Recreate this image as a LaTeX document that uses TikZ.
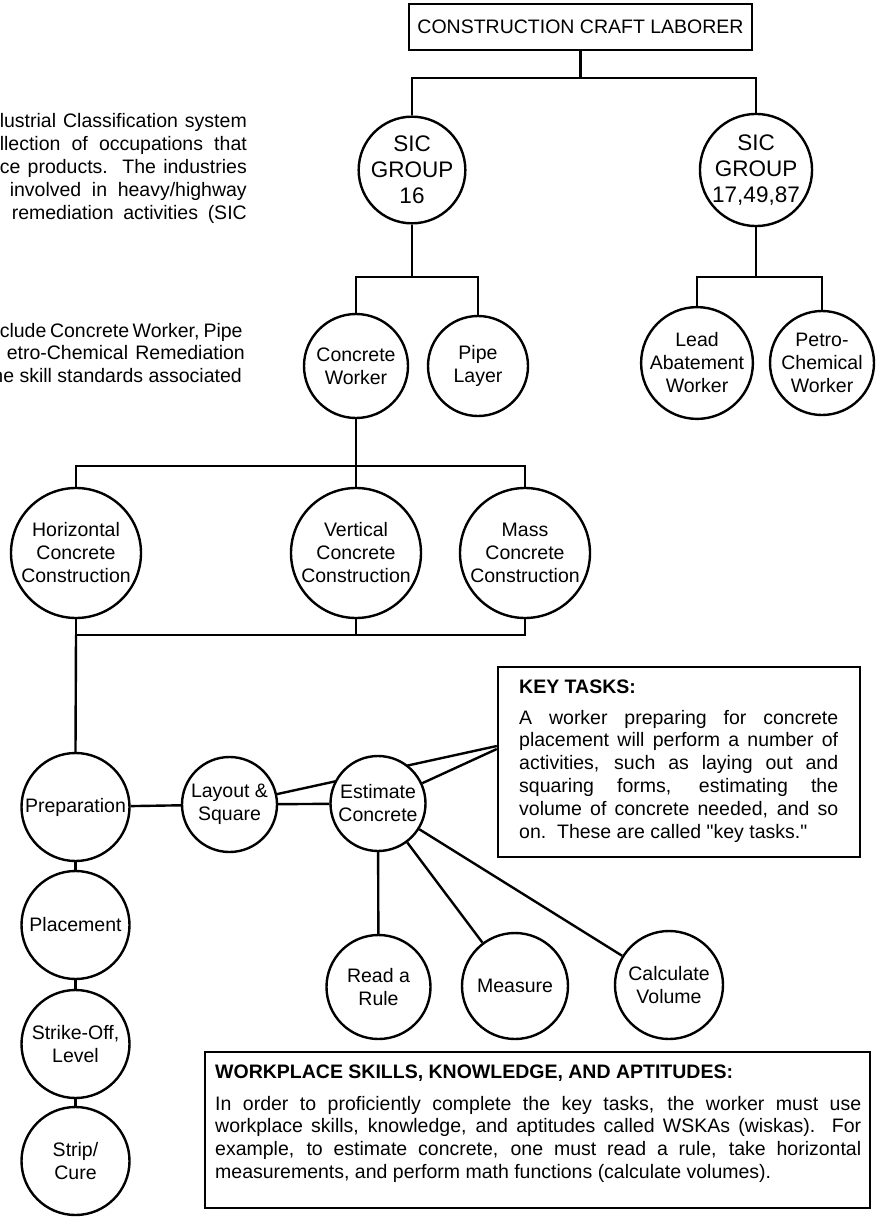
\documentclass[tikz,border=0pt]{standalone}
\usepackage{fontspec}
\setmainfont{Liberation Sans}
\usetikzlibrary{backgrounds}
\newcommand\jl[2]{\makebox[#1][s]{#2}}
\begin{document}
\begin{tikzpicture}[x=1pt,y=-1pt,
  conn/.style={line width=2.4pt},
  txt/.style={font=\fontsize{19.5}{22.8}\selectfont,inner sep=0pt},
  circ/.style={circle,draw,line width=2.4pt,fill=white,inner sep=0pt,align=center,minimum size=#1,font=\fontsize{19.5}{23}\selectfont},
  sicc/.style={circle,draw,line width=2.4pt,fill=white,inner sep=0pt,align=center,minimum size=#1,font=\fontsize{22.5}{26}\selectfont},
  box/.style={draw,line width=2.4pt,fill=white,inner sep=0pt}]
\useasboundingbox (0,0) rectangle (881,1217);

% cut-off paragraph fragments at left
\node[txt,anchor=base east] (p1) at (247,128) {\jl{247pt}{lustrial Classification system}};
\node[txt,anchor=base east] (p2) at (247,150.8) {\jl{247pt}{llection of occupations that}};
\node[txt,anchor=base east] (p3) at (247,173.6) {\jl{247pt}{ce products.\ \ The industries}};
\node[txt,anchor=base east] (p4) at (247,196.4) {\jl{237pt}{involved in heavy/highway}};
\node[txt,anchor=base east] (p5) at (247,219.2) {\jl{235pt}{remediation activities (SIC}};
\node[txt,anchor=base east] (q1) at (242,337) {\jl{242pt}{clude Concrete Worker, Pipe}};
\node[txt,anchor=base east] (q2) at (242,359.8) {\jl{235pt}{etro-Chemical\ \ Remediation}};
\node[txt,anchor=base east] (q3) at (242,382.6) {he skill standards associated};

% nodes
\node[box,minimum width=343pt,minimum height=46pt,font=\fontsize{19.5}{23}\selectfont] (ccl) at (580.5,27) {CONSTRUCTION CRAFT LABORER};
\node[sicc=104pt] (sic16) at (412,170) {SIC\\GROUP\\16};
\node[sicc=104pt] (sic17) at (756,170) {SIC\\GROUP\\17,49,87};
\node[circ=104pt] (cw) at (356,366) {Concrete\\Worker};
\node[circ=100pt] (pipe) at (478,366) {Pipe\\Layer};
\node[circ=108pt] (lead) at (697,363) {Lead\\Abatement\\Worker};
\node[circ=104pt] (petro) at (822,363) {Petro-\\Chemical\\Worker};
\node[circ=130pt] (hcc) at (76,553) {Horizontal\\Concrete\\Construction};
\node[circ=130pt] (vcc) at (356,553) {Vertical\\Concrete\\Construction};
\node[circ=130pt] (mcc) at (525,553) {Mass\\Concrete\\Construction};
\node[circ=108pt] (prep) at (75.5,807) {Preparation};
\node[circ=95pt] (ls) at (229.5,804.5) {Layout \&\\Square};
\node[circ=95pt] (est) at (378,803.5) {Estimate\\Concrete};
\node[circ=104pt] (read) at (378.5,987) {Read a\\Rule};
\node[circ=106pt] (meas) at (515,986) {Measure};
\node[circ=108pt] (calc) at (669,985) {Calculate\\Volume};
\node[circ=108pt] (place) at (75.5,925) {Placement};
\node[circ=108pt] (strike) at (75.5,1044) {Strike-Off,\\Level};
\node[circ=108pt] (strip) at (75.5,1161) {Strip/\\Cure};

% key tasks box
\node[box,minimum width=362pt,minimum height=190pt] (kbox) at (679,762) {};
\node[txt,anchor=base west,font=\fontsize{19.5}{22.8}\selectfont\bfseries] (kt) at (519,693) {KEY TASKS:};
\node[txt,anchor=base west,align=left] (kbody) at (519,838) {%
\jl{319pt}{A worker preparing for concrete}\\
\jl{319pt}{placement will perform a number of}\\
\jl{319pt}{activities, such as laying out and}\\
\jl{319pt}{squaring forms, estimating the}\\
\jl{319pt}{volume of concrete needed, and so}\\
on.\ \ These are called \textquotedbl key tasks.\textquotedbl};

% WSKA box
\node[box,minimum width=665pt,minimum height=156pt] (wbox) at (537.5,1130) {};
\node[txt,anchor=base west,font=\fontsize{19.5}{22.8}\selectfont\bfseries] (wt) at (215,1078) {WORKPLACE SKILLS, KNOWLEDGE, AND APTITUDES:};
\node[txt,anchor=base west,align=left] (wbody) at (215,1178.4) {%
\jl{646pt}{In order to proficiently complete the key tasks, the worker must use}\\
\jl{646pt}{workplace skills, knowledge, and aptitudes called WSKAs (wiskas).\ \ For}\\
\jl{646pt}{example, to estimate concrete, one must read a rule, take horizontal}\\
measurements, and perform math functions (calculate volumes).};

\coordinate (k1) at (kbox.west |- 0,746);
\coordinate (k2) at (kbox.west |- 0,749);

% connectors
\begin{scope}[conn]
\draw (ccl.south) -- (ccl.south |- 0,78);
\draw (sic16.north) -- (sic16.north |- 0,78) -- (sic17.north |- 0,78) -- (sic17.north);
\draw (sic16.south) -- (sic16.south |- 0,277);
\draw (cw.north) -- (cw.north |- 0,277) -- (pipe.north |- 0,277) -- (pipe.north);
\draw (sic17.south) -- (sic17.south |- 0,277);
\draw (lead.north) -- (lead.north |- 0,277) -- (petro.north |- 0,277) -- (petro.north);
\draw (cw.south) -- (cw.south |- 0,466);
\draw (hcc.north) -- (hcc.north |- 0,466) -- (mcc.north |- 0,466) -- (mcc.north);
\draw (vcc.north) -- (vcc.north |- 0,466);
\draw (hcc.south) -- (hcc.south |- 0,635) -- (mcc.south |- 0,635) -- (mcc.south);
\draw (vcc.south) -- (vcc.south |- 0,635);
\draw (hcc.south |- 0,635) -- (prep.north);
\draw (prep) -- (ls);
\draw (ls) -- (est);
\draw (est) -- (k2);
\draw (est) -- (read);
\draw (est) -- (meas);
\draw (est) -- (calc);
\draw (prep) -- (place);
\draw (place) -- (strike);
\draw (strike) -- (strip);
\end{scope}
\begin{pgfonlayer}{background}
\fill[white] (0,0) rectangle (881,1217);
\draw[conn] (ls) -- (k1);
\end{pgfonlayer}
\end{tikzpicture}
\end{document}
